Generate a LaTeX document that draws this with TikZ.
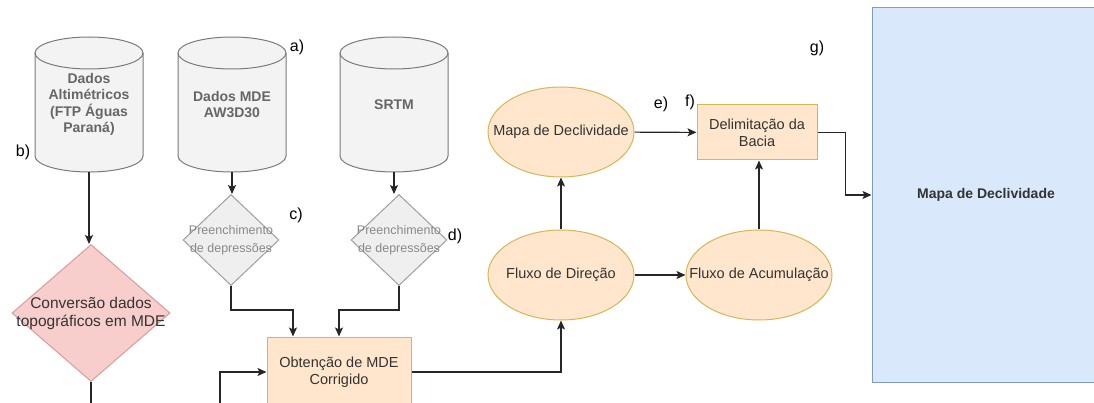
\documentclass[tikz,border=0pt]{standalone}
\usepackage{fontspec}
\setmainfont{Liberation Sans}
\usetikzlibrary{shapes.geometric,arrows.meta,backgrounds}
\definecolor{cylfill}{HTML}{F3F3F3}
\definecolor{cylline}{HTML}{7A7A7A}
\definecolor{cyltext}{HTML}{666666}
\definecolor{diafill}{HTML}{EFEFEF}
\definecolor{dialine}{HTML}{9E9E9E}
\definecolor{diatext}{HTML}{8A8A8A}
\definecolor{pinkfill}{HTML}{F8CECC}
\definecolor{pinkline}{HTML}{DB9B98}
\definecolor{orfill}{HTML}{FFE6CC}
\definecolor{orline}{HTML}{D6B656}
\definecolor{bluefill}{HTML}{DAE8FC}
\definecolor{blueline}{HTML}{7F9CC8}
\definecolor{txt}{HTML}{333333}
\tikzset{
  txtfont/.style={font=\fontsize{14.5}{17}\selectfont, text=txt},
  datacyl/.style={rectangle, minimum width=108, minimum height=135, inner sep=0pt, align=center,
    text=cyltext, font=\bfseries\fontsize{14}{16.5}\selectfont},
  filldia/.style={diamond, draw=dialine, fill=diafill, line width=1pt, inner sep=0pt,
    minimum width=96, minimum height=91},
  convdia/.style={diamond, draw=pinkline, fill=pinkfill, line width=1pt, inner sep=0pt,
    minimum width=158, minimum height=137},
  procbox/.style={rectangle, draw=orline, fill=orfill, line width=1pt, align=center, txtfont},
  procell/.style={ellipse, draw=orline, fill=orfill, line width=1pt, inner sep=0pt,
    minimum width=146, minimum height=90},
  steplabel/.style={font=\fontsize{16}{18}\selectfont},
  flow/.style={line width=1.1pt, draw=black!85, -{Stealth[length=9pt,width=8pt,inset=2pt]}}
}
\begin{document}
\begin{tikzpicture}[x=1pt, y=-1pt, node distance=143]
  \useasboundingbox (0,0) rectangle (1094,403);
  \clip (0,0) rectangle (1094,403);
  % dados de entrada
  \node[datacyl]               (alti) at (89,104.5) {Dados\\Altimétricos\\(FTP Águas\\Paraná)};
  \node[datacyl, right of=alti] (aw3d) {Dados MDE\\AW3D30};
  \node[datacyl, right of=aw3d, node distance=162] (srtm) {SRTM};
  \begin{scope}[on background layer]
    \foreach \c in {alti,aw3d,srtm}{
      \begin{scope}[shift={(\c.center)}, line width=1pt]
        \filldraw[draw=cylline, fill=cylfill] (-54pt,51.5pt) -- (-54pt,-51.5pt)
          arc[start angle=180, end angle=360, x radius=54pt, y radius=16pt] -- (54pt,51.5pt)
          arc[start angle=0, end angle=180, x radius=54pt, y radius=16pt] -- cycle;
        \draw[cylline] (-54pt,51.5pt) arc[start angle=180, end angle=360, x radius=54pt, y radius=16pt];
      \end{scope}
    }
  \end{scope}
  % pre-processamento
  \node[convdia, label={[txtfont, font=\fontsize{15.5}{18}\selectfont, align=center]center:Conversão dados\\topográficos em MDE}] (conv) at (91,313) {};
  \node[filldia, label={[font=\fontsize{12.5}{18}\selectfont, text=diatext, align=center]center:Preenchimento\\de depressões}] (fillaw) at (231,240) {};
  \node[filldia, label={[font=\fontsize{12.5}{18}\selectfont, text=diatext, align=center]center:Preenchimento\\de depressões}] (fillsr) at (399,240) {};
  \node[procbox, minimum width=144, minimum height=70] (obt) at (339,372) {Obtenção de MDE\\Corrigido};
  % hidrologia
  \node[procell, label={[txtfont]center:Fluxo de Direção}] (fdir) at (561,275) {};
  \node[procell, above of=fdir, label={[txtfont]center:Mapa de Declividade}] (mapa) {};
  \node[procell, right of=fdir, node distance=198, label={[txtfont]center:Fluxo de Acumulação}] (facum) {};
  \node[procbox, minimum width=120, minimum height=55] (delim) at (757,132.5) {Delimitação da\\Bacia};
  \node[rectangle, draw=blueline, fill=bluefill, line width=1pt, minimum width=228, minimum height=374,
    txtfont, font=\bfseries\fontsize{14}{17}\selectfont] (decl) at (986,195) {Mapa de Declividade};
  % letras
  \node[steplabel] (la) at (297,47) {a)};
  \node[steplabel] (lb) at (23,152) {b)};
  \node[steplabel] (lc) at (296,215) {c)};
  \node[steplabel] (ld) at (455,236) {d)};
  \node[steplabel] (le) at (661,104) {e)};
  \node[steplabel] (lf) at (690,102) {f)};
  \node[steplabel] (lg) at (817,48) {g)};
  % ligacoes
  \draw[flow] (alti.south) -- (alti.south |- conv.north);
  \draw[flow] (aw3d.south) -- (aw3d.south |- fillaw.north);
  \draw[flow] (srtm.south) -- (srtm.south |- fillsr.north);
  \draw[flow] (conv.south) -- ++(0,40) -- ++(129,0) |- (obt.west);
  \draw[flow] (fillaw.south) -- ++(0,24) -| ([xshift=-46pt]obt.north);
  \draw[flow] (fillsr.south) -- ++(0,24) -| (obt.north);
  \draw[flow] (obt.east) -| (fdir.south);
  \draw[flow] (fdir) -- (mapa);
  \draw[flow] (fdir) -- (facum);
  \draw[flow] (facum.north) -- (facum.north |- delim.south);
  \draw[flow] (mapa) -- (delim);
  \draw[flow] (delim.east) -- ++(28,0) |- (decl.west);
\end{tikzpicture}
\end{document}
